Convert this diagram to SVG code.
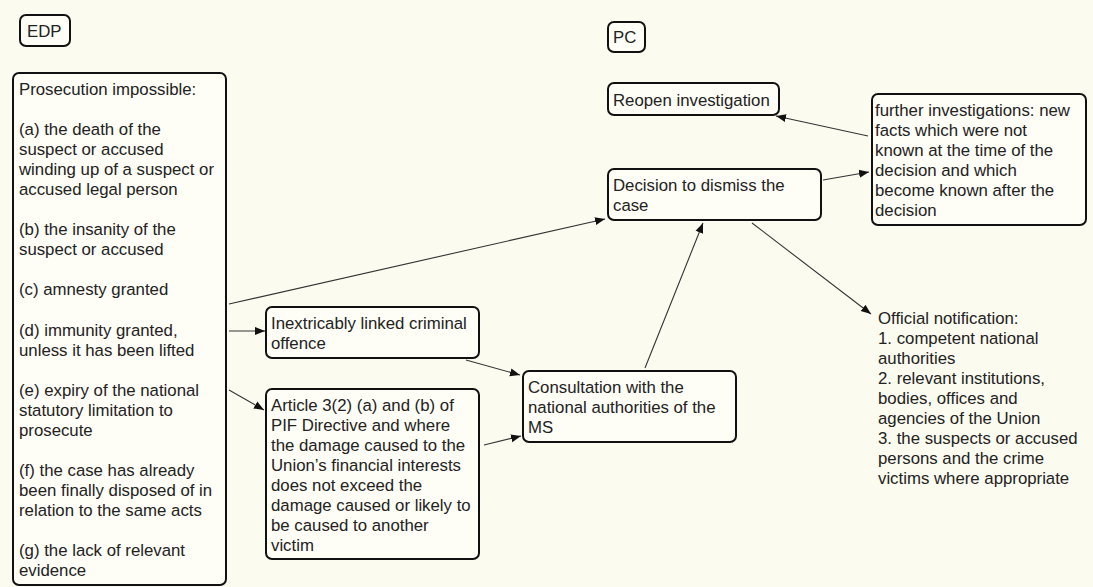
<svg xmlns="http://www.w3.org/2000/svg" width="1093" height="587" viewBox="0 0 1093 587">
<style>
.bg{fill:#fcfbf0}
.box{fill:#fefdf6;stroke:#111;stroke-width:2}
.t{font-family:"Liberation Sans",Arial,sans-serif;font-size:16.8px;fill:#222}
.c{stroke:#333;stroke-width:1.1;fill:none;marker-end:url(#ah)}
</style>
<defs>
<marker id="ah" viewBox="0 0 10 10" refX="10" refY="5" markerWidth="10" markerHeight="10" markerUnits="userSpaceOnUse" orient="auto">
<path d="M0,1 L10,5 L0,9 Z" fill="#111"/>
</marker>
</defs>
<rect class="bg" x="0" y="0" width="1093" height="587"/>
<g id="connectors">
<line class="c" x1="868" y1="136" x2="776" y2="116"/>
<line class="c" x1="823" y1="180" x2="869" y2="172"/>
<line class="c" x1="229" y1="304" x2="605" y2="219"/>
<line class="c" x1="229" y1="331" x2="265" y2="331"/>
<line class="c" x1="229" y1="390" x2="264" y2="410"/>
<line class="c" x1="466" y1="360" x2="520" y2="375"/>
<line class="c" x1="484" y1="445" x2="521" y2="436"/>
<line class="c" x1="645" y1="368" x2="703" y2="223"/>
<line class="c" x1="752" y1="223" x2="871" y2="314"/>
</g>
<g id="edp-label">
<rect class="box" x="20" y="15" width="50" height="31" rx="6"/>
<text class="t" x="27" y="37">EDP</text>
</g>
<g id="pc-label">
<rect class="box" x="608" y="22" width="37" height="30" rx="6"/>
<text class="t" x="613" y="43">PC</text>
</g>
<g id="prosecution-impossible">
<rect class="box" x="13" y="73" width="213" height="512" rx="6"/>
<text class="t" x="19">
<tspan x="19" y="95">Prosecution impossible:</tspan>
<tspan x="19" y="135">(a) the death of the</tspan>
<tspan x="19" y="155">suspect or accused</tspan>
<tspan x="19" y="175">winding up of a suspect or</tspan>
<tspan x="19" y="195">accused legal person</tspan>
<tspan x="19" y="235">(b) the insanity of the</tspan>
<tspan x="19" y="255">suspect or accused</tspan>
<tspan x="19" y="295">(c) amnesty granted</tspan>
<tspan x="19" y="336">(d) immunity granted,</tspan>
<tspan x="19" y="356">unless it has been lifted</tspan>
<tspan x="19" y="396">(e) expiry of the national</tspan>
<tspan x="19" y="416">statutory limitation to</tspan>
<tspan x="19" y="436">prosecute</tspan>
<tspan x="19" y="476">(f) the case has already</tspan>
<tspan x="19" y="496">been finally disposed of in</tspan>
<tspan x="19" y="516">relation to the same acts</tspan>
<tspan x="19" y="556">(g) the lack of relevant</tspan>
<tspan x="19" y="576">evidence</tspan>
</text>
</g>
<g id="reopen-investigation">
<rect class="box" x="608" y="83" width="171" height="32" rx="6"/>
<text class="t" x="613" y="106">Reopen investigation</text>
</g>
<g id="decision-dismiss">
<rect class="box" x="608" y="169" width="213" height="51" rx="6"/>
<text class="t"><tspan x="613" y="191">Decision to dismiss the</tspan><tspan x="613" y="211">case</tspan></text>
</g>
<g id="further-investigations">
<rect class="box" x="872" y="94" width="214" height="131" rx="6"/>
<text class="t">
<tspan x="875" y="116">further investigations: new</tspan>
<tspan x="875" y="136">facts which were not</tspan>
<tspan x="875" y="156">known at the time of the</tspan>
<tspan x="875" y="176">decision and which</tspan>
<tspan x="875" y="196">become known after the</tspan>
<tspan x="875" y="216">decision</tspan>
</text>
</g>
<g id="inextricably-linked">
<rect class="box" x="266" y="307" width="213" height="51" rx="6"/>
<text class="t"><tspan x="271" y="329">Inextricably linked criminal</tspan><tspan x="271" y="349">offence</tspan></text>
</g>
<g id="article-3-2">
<rect class="box" x="266" y="389" width="213" height="170" rx="6"/>
<text class="t">
<tspan x="271" y="411">Article 3(2) (a) and (b) of</tspan>
<tspan x="271" y="431">PIF Directive and where</tspan>
<tspan x="271" y="451">the damage caused to the</tspan>
<tspan x="271" y="471">Union’s financial interests</tspan>
<tspan x="271" y="491">does not exceed the</tspan>
<tspan x="271" y="511">damage caused or likely to</tspan>
<tspan x="271" y="531">be caused to another</tspan>
<tspan x="271" y="551">victim</tspan>
</text>
</g>
<g id="consultation">
<rect class="box" x="523" y="371" width="213" height="71" rx="6"/>
<text class="t">
<tspan x="528" y="393">Consultation with the</tspan>
<tspan x="528" y="413">national authorities of the</tspan>
<tspan x="528" y="433">MS</tspan>
</text>
</g>
<g id="official-notification">
<text class="t">
<tspan x="878" y="324">Official notification:</tspan>
<tspan x="878" y="344">1. competent national</tspan>
<tspan x="878" y="364">authorities</tspan>
<tspan x="878" y="384">2. relevant institutions,</tspan>
<tspan x="878" y="404">bodies, offices and</tspan>
<tspan x="878" y="424">agencies of the Union</tspan>
<tspan x="878" y="444">3. the suspects or accused</tspan>
<tspan x="878" y="464">persons and the crime</tspan>
<tspan x="878" y="484">victims where appropriate</tspan>
</text>
</g>
</svg>
